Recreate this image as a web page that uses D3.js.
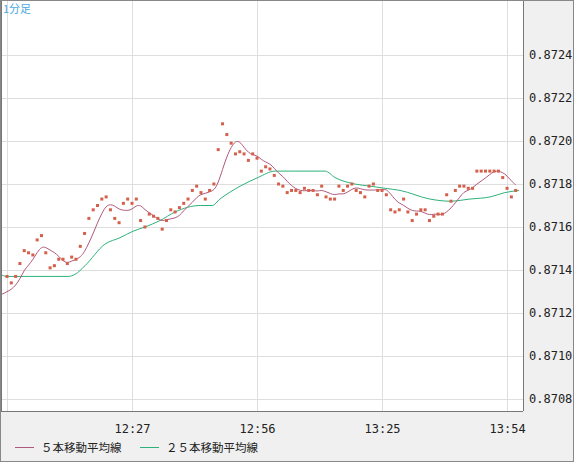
<!DOCTYPE html>
<html><head><meta charset="utf-8">
<script src="https://cdn.jsdelivr.net/npm/d3@7"></script>
<style>body{margin:0;background:#f0f0f0}svg{display:block}</style>
</head><body><svg id="c" width="574" height="462"></svg>
<script>
const startTime = "11:58";
// estimated level of the bars just before the visible window
const priorLevel = [0.87128];
const prices = [0.87137,0.87134,0.87137,0.87143,0.87149,0.87148,0.87147,0.87154,0.87156,0.87148,
0.87141,0.87142,0.87145,0.87145,0.87143,0.87146,0.87145,0.87151,0.87157,0.87164,
0.87168,0.87170,0.87173,0.87174,0.87168,0.87164,0.87162,0.87171,0.87173,0.87171,
0.87173,0.87163,0.87160,0.87166,0.87165,0.87164,0.87159,0.87163,0.87168,0.87167,
0.87169,0.87171,0.87173,0.87177,0.87179,0.87176,0.87173,0.87177,0.87180,0.87196,
0.87208,0.87203,0.87199,0.87194,0.87195,0.87194,0.87191,0.87194,0.87192,0.87186,
0.87188,0.87187,0.87184,0.87180,0.87179,0.87176,0.87177,0.87177,0.87176,0.87178,
0.87177,0.87177,0.87175,0.87179,0.87174,0.87173,0.87173,0.87179,0.87177,0.87179,
0.87180,0.87177,0.87176,0.87174,0.87179,0.87180,0.87177,0.87177,0.87175,0.87168,
0.87167,0.87168,0.87173,0.87167,0.87163,0.87166,0.87168,0.87168,0.87163,0.87165,
0.87166,0.87166,0.87175,0.87172,0.87177,0.87179,0.87179,0.87178,0.87178,0.87186,
0.87186,0.87186,0.87186,0.87186,0.87186,0.87183,0.87178,0.87174,0.87177];
// 25-bar average (minute offset from startTime, value)
const ma25Minutes = [-1.6,0,5.3,10,14.2,15.8,18.1,22.7,26.2,29.2,32,35.5,39,44.8,47.6,49.4,54.1,58.2,62.2,65.7,72.6,73.8,76.1,80.7,84.2,87.7,91.2,98.1,102.8,107.4,112.1,115.5,118.8];
const ma25Values = [0.87138,0.87137,0.87137,0.87137,0.87137,0.87138,0.87142,0.87152,0.87155,0.87158,0.87160,0.87163,0.87167,0.87170,0.87170,0.87173,0.87179,0.87183,0.87186,0.87186,0.87186,0.87186,0.87183,0.87180,0.87179,0.87178,0.87177,0.87173,0.87172,0.87173,0.87174,0.87176,0.87177];
const yTicks = [0.8708,0.8710,0.8712,0.8714,0.8716,0.8718,0.8720,0.8722,0.8724];
const xTickLabels = ["11:58","12:27","12:56","13:25","13:54"];
const legendLabels = ["５本移動平均線","２５本移動平均線"];
const title = "1分足";

const svg = d3.select("#c");
const W=574,H=462,PR=523,PB=411;
const parse = s=>{const [h,m]=s.split(":").map(Number);return h*60+m;};
const t0 = parse(startTime);
const data = prices.map((p,i)=>({t:t0+i,p}));
const x = d3.scaleLinear().domain([t0-1.62,t0+119.7]).range([0,PR]);
const y = d3.scaleLinear().domain([0.870744,0.872656]).range([PB,0]);
const OFF=5;
const full = Array(OFF).fill(priorLevel[0]).concat(prices);
const ma5 = [{t:t0-2,p:priorLevel[0]}].concat(data.map((d,i)=>({t:d.t,p:d3.mean(full.slice(i+OFF-4,i+OFF+1))})));
const ma25 = ma25Minutes.map((m,i)=>({t:t0+m,p:ma25Values[i]}));

svg.append("rect").attr("x",0).attr("y",0).attr("width",PR).attr("height",PB).attr("fill","#fff");
const g=svg.append("g");
g.selectAll(".hg").data(yTicks).join("line").attr("x1",0).attr("x2",PR)
 .attr("y1",d=>Math.round(y(d))+0.5).attr("y2",d=>Math.round(y(d))+0.5).attr("stroke","#dedede");
g.selectAll(".vg").data(xTickLabels).join("line").attr("y1",0).attr("y2",PB)
 .attr("x1",d=>Math.round(x(parse(d)))+0.5).attr("x2",d=>Math.round(x(parse(d)))+0.5).attr("stroke","#dedede");

svg.append("clipPath").attr("id","cp").append("rect").attr("width",PR).attr("height",PB);
const pl=svg.append("g").attr("clip-path","url(#cp)");
const lineB=d3.line().x(d=>x(d.t)).y(d=>y(d.p)).curve(d3.curveBasis);
const lineM=d3.line().x(d=>x(d.t)).y(d=>y(d.p)).curve(d3.curveMonotoneX);
pl.append("path").attr("d",lineM(ma25)).attr("fill","none").attr("stroke","#2db37a").attr("stroke-width",1);
pl.append("path").attr("d",lineB(ma5)).attr("fill","none").attr("stroke","#b0587c").attr("stroke-width",1);
svg.selectAll(".dot").data(data).join("rect").attr("x",d=>x(d.t)-1.5).attr("y",d=>y(d.p)-1.5)
 .attr("width",3).attr("height",3).attr("fill","#d4604c");

svg.append("line").attr("x1",1).attr("x2",1).attr("y1",0).attr("y2",PB).attr("stroke","#777").attr("stroke-width",2);
svg.append("line").attr("x1",0).attr("x2",PR).attr("y1",PB+0.5).attr("y2",PB+0.5).attr("stroke","#777");
svg.append("line").attr("x1",PR+0.5).attr("x2",PR+0.5).attr("y1",0).attr("y2",PB).attr("stroke","#777");
svg.append("rect").attr("x",0.5).attr("y",0.5).attr("width",W-1).attr("height",H-1).attr("fill","none").attr("stroke","#888");

const yAxis=d3.axisRight(y).tickValues(yTicks).tickSize(0).tickFormat(d3.format(".4f"));
const ya=svg.append("g").attr("transform",`translate(${PR+3},0)`).call(yAxis);
ya.select(".domain").remove();
ya.selectAll("text").attr("font-family","DejaVu Sans Mono").attr("font-size",12).attr("fill","#222");

const xAxis=d3.axisBottom(x).tickValues(xTickLabels.slice(1).map(parse)).tickSize(0)
 .tickFormat(v=>xTickLabels.find(s=>parse(s)===v));
const xa=svg.append("g").attr("transform",`translate(0,${PB+10})`).call(xAxis);
xa.select(".domain").remove();
xa.selectAll("text").attr("font-family","DejaVu Sans Mono").attr("font-size",12).attr("fill","#222");

svg.append("text").attr("x",3).attr("y",13).text(title).attr("font-size",11)
 .attr("font-family","Noto Sans CJK JP").attr("fill","#4aa8e0");

const lg=[{c:"#b0587c",x:15,t:legendLabels[0]},{c:"#2db37a",x:140,t:legendLabels[1]}];
lg.forEach(l=>{
 svg.append("line").attr("x1",l.x).attr("x2",l.x+19).attr("y1",447.5).attr("y2",447.5).attr("stroke",l.c);
 svg.append("text").attr("x",l.x+26).attr("y",452).text(l.t).attr("font-size",11.5)
  .attr("font-family","Noto Sans CJK JP").attr("fill","#222");
});
</script></body></html>
